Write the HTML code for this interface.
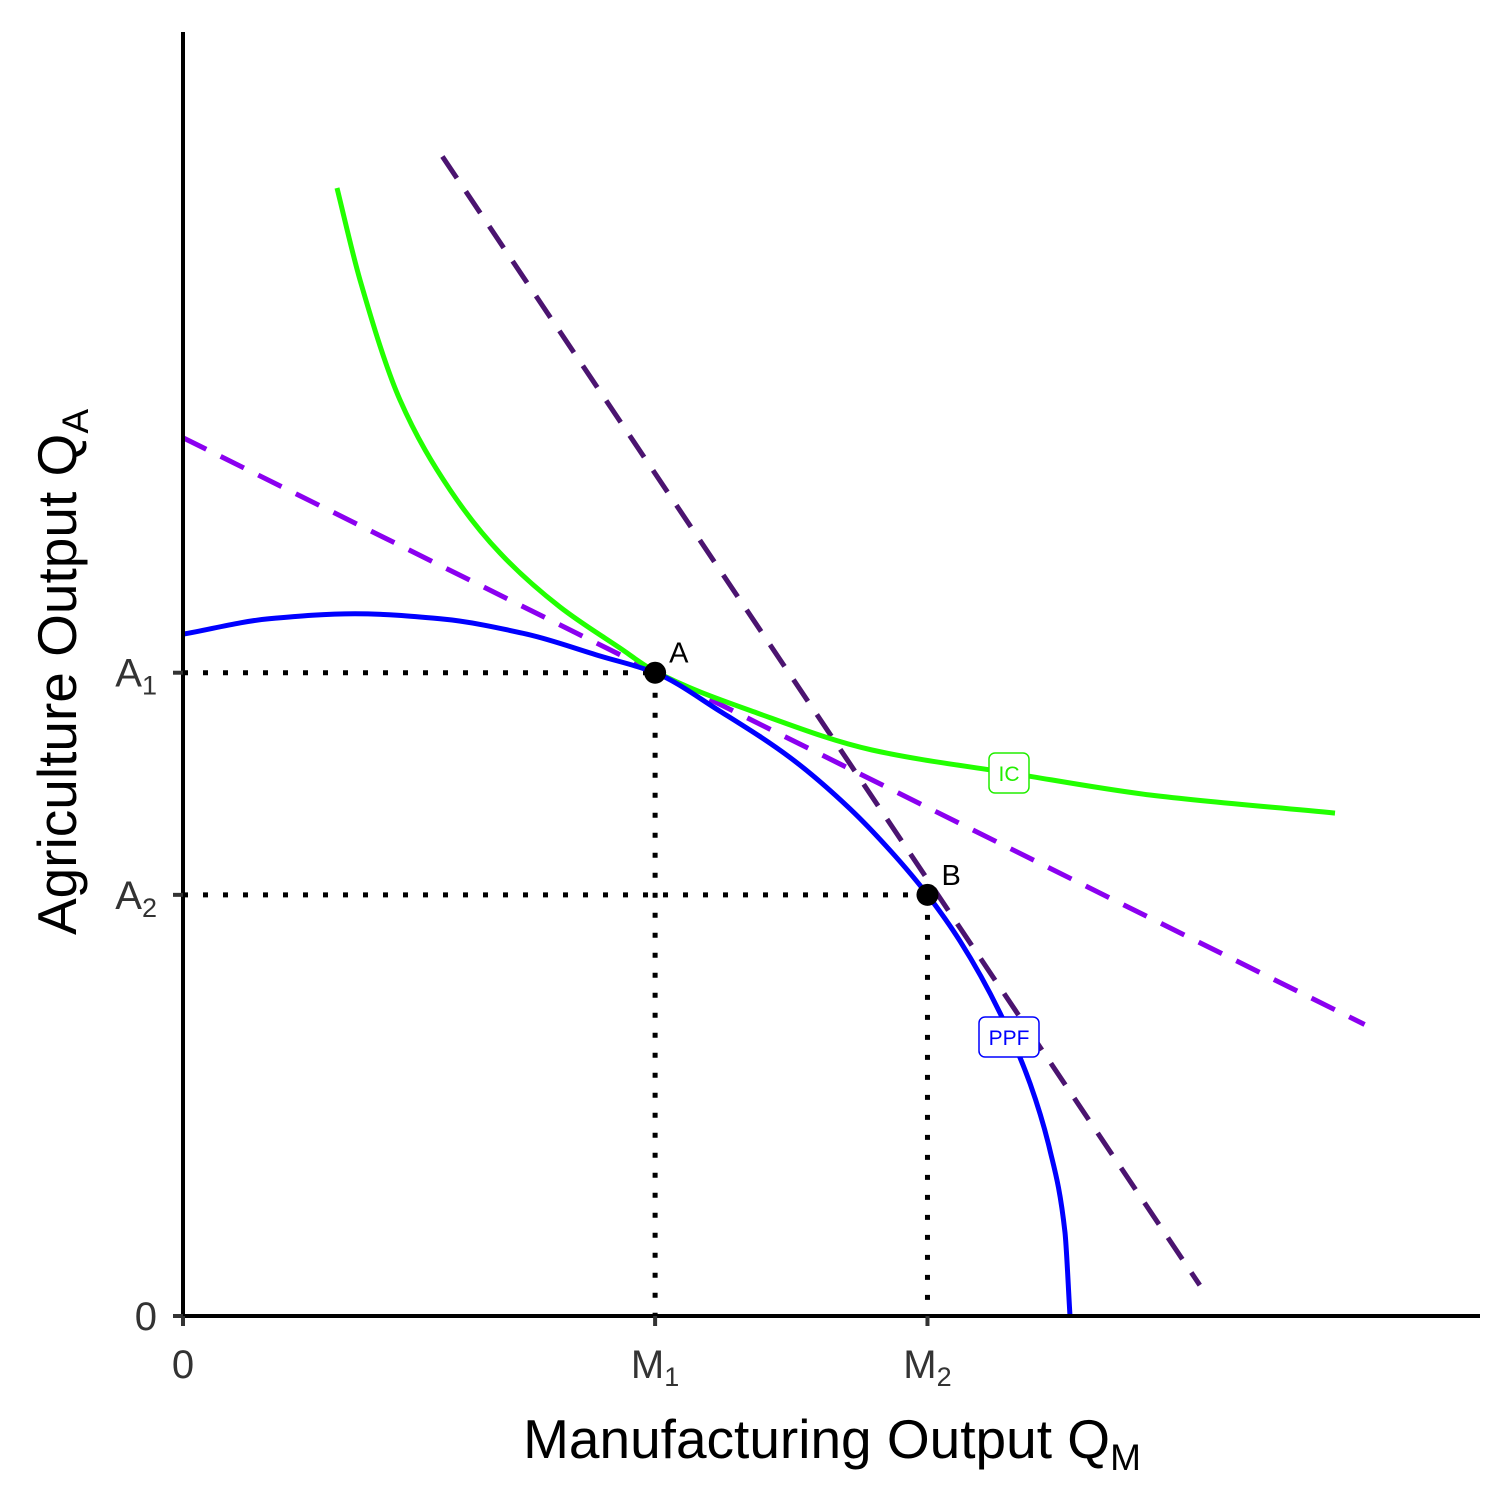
<!DOCTYPE html>
<html><head><meta charset="utf-8"><style>
html,body{margin:0;padding:0;background:#fff}
svg{display:block}
text{font-family:"Liberation Sans",sans-serif}
</style></head><body>
<svg id="chart" width="1512" height="1512" viewBox="0 0 1512 1512" xmlns="http://www.w3.org/2000/svg">
<rect width="1512" height="1512" fill="#fff"/>
<g id="plot"></g>
</svg>
<script>
const ppfX=[0,0.663,1.326,1.982,2.652,3.215,3.64,4.140,4.680,5.143,5.528,5.74,5.991,6.299,6.531,6.685,6.800,6.839];
const ppfY=[5.31,5.43,5.47,5.43,5.31,5.14,5.01,4.71,4.35,3.95,3.54,3.28,2.92,2.36,1.81,1.29,0.65,0];
const icX=[1.187,1.365,1.673,2.059,2.444,2.907,3.369,3.64,4.426,5.312,6.376,7.456,8.882];
const icY=[8.785,8.069,7.134,6.433,5.942,5.522,5.202,5.02,4.696,4.408,4.229,4.058,3.917];
const priceLine1X=[0,9.11];
const priceLine1Y=[6.84,2.27];
const priceLine2X=[2.00,7.84];
const priceLine2Y=[9.03,0.24];
const pointNames=["A","B"];
const pointX=[3.64,5.74];
const pointY=[5.01,3.28];
const xTickVals=[0,3.64,5.74];
const xTickLabels=["0","M1","M2"];
const yTickVals=[0,3.28,5.01];
const yTickLabels=["0","A2","A1"];

const X0=183,Y0=1316,KX=129.7,KY=128.4;
const sx=v=>X0+v*KX, sy=v=>Y0-v*KY;
const NS="http://www.w3.org/2000/svg";
const g=document.getElementById('plot');
function mk(tag,attrs){const e=document.createElementNS(NS,tag);for(const k in attrs)e.setAttribute(k,attrs[k]);g.appendChild(e);return e;}
function pathFrom(xs,ys){return xs.map((x,i)=>(i?'L':'M')+sx(x).toFixed(1)+' '+sy(ys[i]).toFixed(1)).join(' ');}
// monotone cubic (Fritsch-Carlson) in x, drawn as bezier segments
function smoothPath(xs,ys){
  const X=xs.map(sx),Y=ys.map(sy),n=X.length;
  const d=[],m=[];
  for(let i=0;i<n-1;i++)d.push((Y[i+1]-Y[i])/(X[i+1]-X[i]));
  m[0]=d[0];m[n-1]=d[n-2];
  for(let i=1;i<n-1;i++){
    if(d[i-1]*d[i]<=0)m[i]=0;
    else{const h0=X[i]-X[i-1],h1=X[i+1]-X[i];const w1=2*h1+h0,w2=h1+2*h0;m[i]=(w1+w2)/(w1/d[i-1]+w2/d[i]);}
  }
  let p='M'+X[0].toFixed(1)+' '+Y[0].toFixed(1);
  for(let i=0;i<n-1;i++){
    const h=X[i+1]-X[i];
    p+=` C${(X[i]+h/3).toFixed(1)} ${(Y[i]+m[i]*h/3).toFixed(1)} ${(X[i+1]-h/3).toFixed(1)} ${(Y[i+1]-m[i+1]*h/3).toFixed(1)} ${X[i+1].toFixed(1)} ${Y[i+1].toFixed(1)}`;
  }
  return p;
}

pointX.forEach((px,i)=>{
  const h=mk('path',{d:`M${X0} ${sy(pointY[i])} L${sx(px)} ${sy(pointY[i])} M${sx(px)} ${sy(pointY[i])} L${sx(px)} ${Y0}`,stroke:'#000','stroke-width':5,'stroke-dasharray':'5 15',fill:'none'});
  
  
});
let l1=mk('path',{d:pathFrom(priceLine1X,priceLine1Y),stroke:'#8b00f0','stroke-width':5,'stroke-dasharray':'26 16',fill:'none'});


let l2=mk('path',{d:pathFrom(priceLine2X,priceLine2Y),stroke:'#4b1470','stroke-width':5,'stroke-dasharray':'26 16',fill:'none'});


let ic=mk('path',{d:smoothPath(icX,icY),stroke:'#22ff00','stroke-width':5,fill:'none','stroke-linejoin':'round'});


let ppf=mk('path',{d:smoothPath(ppfX,ppfY),stroke:'#0000ff','stroke-width':5,fill:'none','stroke-linejoin':'round'});


let ax=mk('path',{d:`M${X0} 32 L${X0} ${Y0} L1480 ${Y0}`,stroke:'#000','stroke-width':4,fill:'none'});


pointX.forEach((px,i)=>{
  const c=mk('circle',{cx:sx(px),cy:sy(pointY[i]),r:11,fill:'#000'});
  
  
  const t=mk('text',{x:sx(px)+14,y:sy(pointY[i])-10,'font-size':29,fill:'#000'});
  t.textContent=pointNames[i];
  
  
});
function boxLabel(cx,cy,w,txt,col,name){
  const r=mk('rect',{x:cx-w/2,y:cy-20,width:w,height:40,rx:6,fill:'#fff',stroke:col,'stroke-width':1.5});
  
  
  const t=mk('text',{x:cx,y:cy+8,'font-size':21,fill:col,'text-anchor':'middle'});
  t.textContent=txt;
  
  
}
boxLabel(1009,773,40,'IC','#22ee00','ic-label');
boxLabel(1009,1037,60,'PPF','#0000ff','ppf-label');
xTickVals.forEach((v,i)=>{
  const tk=mk('line',{x1:sx(v),x2:sx(v),y1:Y0,y2:Y0+10,stroke:'#333','stroke-width':4});
  
  
  const lab=xTickLabels[i];
  const t=mk('text',{x:sx(v),y:1378,'font-size':40,fill:'#333','text-anchor':'middle'});
  if(lab.length>1){t.innerHTML=lab[0]+'<tspan font-size="27" dy="8">'+lab.slice(1)+'</tspan>';}else t.textContent=lab;
  
  
});
yTickVals.forEach((v,i)=>{
  const tk=mk('line',{x1:X0-10,x2:X0,y1:sy(v),y2:sy(v),stroke:'#333','stroke-width':4});
  
  
  const lab=yTickLabels[i];
  const t=mk('text',{x:157,y:sy(v)+14,'font-size':40,fill:'#333','text-anchor':'end'});
  if(lab.length>1){t.innerHTML=lab[0]+'<tspan font-size="27" dy="8">'+lab.slice(1)+'</tspan>';}else t.textContent=lab;
  
  
});
let xt=mk('text',{x:832,y:1458,'font-size':55,fill:'#000','text-anchor':'middle'});
xt.innerHTML='Manufacturing Output Q<tspan font-size="37" dy="12">M</tspan>';


let yt=mk('text',{x:0,y:0,'font-size':55,fill:'#000','text-anchor':'middle',transform:'translate(76,672) rotate(-90)'});
yt.innerHTML='Agriculture Output Q<tspan font-size="37" dy="12">A</tspan>';


</script>
</body></html>
